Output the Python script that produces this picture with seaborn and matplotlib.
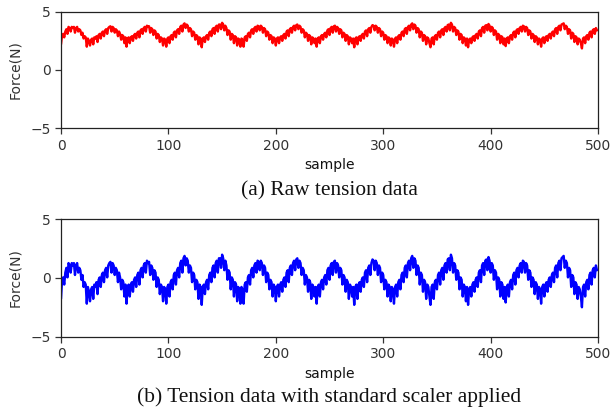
import numpy as np
import pandas as pd
import matplotlib
matplotlib.use("Agg")
import matplotlib.pyplot as plt
import seaborn as sns

# Raw tension readings (N), one value per sample, grouped by wave cycle
seg_a = [2.2, 3.0, 3.1, 2.8, 3.3, 3.5, 3.1, 3.7, 3.6, 3.3, 3.7, 3.6, 3.7, 3.2, 3.6, 3.7, 3.3, 3.5, 3.4, 3.0,
         3.2, 2.7, 2.9, 2.8, 2.0]
seg_b = [2.7, 2.5, 2.1, 2.6, 2.7, 2.2, 2.8, 2.7, 2.9, 2.4, 3.0, 3.1, 2.7, 3.2, 3.3, 2.9, 3.4, 3.5, 3.1, 3.6,
         3.7, 3.75, 3.3, 3.7, 3.6, 3.2, 3.5, 3.4, 2.9, 3.3, 3.1, 2.6, 3.0, 2.9, 2.3, 2.8, 2.0]
seg_c = [2.7, 2.8, 2.3, 2.8, 2.9, 2.5, 3.0, 3.1, 2.7, 3.2, 3.3, 2.8, 3.4, 3.5, 3.1, 3.6, 3.7, 3.3, 3.8, 3.7,
         3.75, 3.2, 3.6, 3.5, 3.0, 3.4, 3.3, 2.7, 3.1, 3.0, 2.4, 2.8, 2.7, 2.1, 2.7, 2.6, 2.0]
seg_d = [2.7, 2.8, 2.3, 2.9, 3.0, 2.6, 3.2, 3.3, 2.8, 3.4, 3.5, 3.1, 3.7, 3.8, 3.3, 3.9, 4.0, 3.6, 3.9, 3.8,
         3.3, 3.6, 3.5, 2.9, 3.3, 3.2, 2.6, 3.0, 2.9, 2.2, 2.8, 2.7, 1.95]
seg_e = [2.7, 2.8, 2.4, 2.9, 3.0, 2.6, 3.2, 3.3, 2.9, 3.5, 3.6, 3.1, 3.7, 3.8, 3.3, 3.9, 3.9, 3.5, 4.05, 3.9,
         3.4, 3.8, 3.6, 3.0, 3.4, 3.3, 2.6, 3.1, 3.0, 2.3, 2.9, 2.8, 2.1, 2.7, 2.6, 2.0]
seg_f = [2.7, 2.6, 2.0, 2.8, 2.9, 2.5, 3.1, 3.2, 2.8, 3.4, 3.5, 3.1, 3.6, 3.7, 3.3, 3.8, 3.75, 3.4, 3.8, 3.7,
         3.2, 3.6, 3.5, 2.9, 3.3, 3.2, 2.6, 3.0, 2.9, 2.3, 2.8, 2.7, 2.1]
seg_g = [2.7, 2.8, 2.3, 2.8, 2.9, 2.5, 3.0, 3.1, 2.7, 3.3, 3.4, 2.9, 3.5, 3.6, 3.2, 3.7, 3.8, 3.4, 3.85, 3.9,
         3.5, 3.8, 3.7, 3.2, 3.5, 3.4, 2.8, 3.2, 3.1, 2.5, 3.0, 2.9, 2.2, 2.8, 2.7, 2.3, 2.7, 2.0]
seg_h = [2.7, 2.8, 2.3, 2.9, 3.0, 2.6, 3.1, 3.2, 2.8, 3.4, 3.5, 3.0, 3.6, 3.7, 3.2, 3.75, 3.8, 3.3, 3.7, 3.6,
         3.1, 3.5, 3.4, 2.8, 3.2, 3.1, 2.5, 3.0, 2.9, 2.2, 2.8, 2.7, 2.3, 2.7, 1.95]
seg_i = [2.7, 2.8, 2.2, 2.8, 2.9, 2.5, 3.0, 3.1, 2.7, 3.3, 3.4, 2.9, 3.5, 3.6, 3.2, 3.7, 3.85, 3.8, 3.4, 3.8,
         3.7, 3.2, 3.6, 3.5, 2.9, 3.3, 3.2, 2.6, 3.0, 2.9, 2.3, 2.8, 2.7, 2.1, 2.7, 2.6, 2.0]
seg_j = [2.7, 2.8, 2.3, 2.9, 3.0, 2.6, 3.2, 3.3, 2.9, 3.5, 3.6, 3.1, 3.7, 3.8, 3.4, 3.9, 4.0, 3.5, 3.9, 3.8,
         3.2, 3.6, 3.5, 2.8, 3.3, 3.2, 2.5, 3.0, 2.9, 2.2, 2.8, 2.7, 2.3, 1.95]
seg_k = [2.7, 2.8, 2.2, 2.9, 3.0, 2.6, 3.2, 3.3, 2.8, 3.4, 3.5, 3.0, 3.6, 3.7, 3.3, 3.85, 3.9, 3.4, 4.05, 3.9,
         3.3, 3.7, 3.6, 3.0, 3.4, 3.3, 2.6, 3.1, 3.0, 2.3, 2.8, 2.7, 2.1, 2.7, 1.95]
seg_l = [2.6, 2.7, 2.3, 2.8, 2.9, 2.5, 3.0, 3.1, 2.7, 3.3, 3.4, 2.9, 3.6, 3.7, 3.2, 3.8, 3.85, 3.4, 3.95, 3.8,
         3.3, 3.7, 3.6, 3.0, 3.4, 3.3, 2.6, 3.1, 3.0, 2.3, 2.9, 2.8, 2.2, 2.7, 2.05]
seg_m = [2.7, 2.8, 2.3, 2.9, 3.0, 2.6, 3.2, 3.3, 2.8, 3.4, 3.5, 3.1, 3.6, 3.7, 3.3, 3.8, 3.75, 3.3, 3.7, 3.6,
         3.0, 3.4, 3.3, 2.7, 3.1, 3.0, 2.4, 2.9, 2.8, 2.2, 2.7, 2.6, 2.0]
seg_n = [2.7, 2.8, 2.3, 2.8, 2.9, 2.5, 3.0, 3.1, 2.7, 3.2, 3.3, 2.9, 3.5, 3.6, 3.1, 3.7, 3.8, 3.4, 3.9, 3.95,
         4.0, 3.5, 3.8, 3.7, 3.1, 3.5, 3.4, 2.7, 3.2, 3.1, 2.4, 2.9, 2.8, 2.2, 2.7, 2.6, 2.3, 1.85]
seg_o = [2.7, 2.8, 2.3, 2.9, 3.0, 2.6, 3.2, 3.3, 2.8, 3.4, 3.5, 3.1, 3.6, 3.4]

raw_force = np.array(seg_a + seg_b + seg_c + seg_d + seg_e + seg_f + seg_g + seg_h
                     + seg_i + seg_j + seg_k + seg_l + seg_m + seg_n + seg_o)
samples = np.arange(len(raw_force))

# Standard scaler: zero mean, unit variance
scaled_force = (raw_force - raw_force.mean()) / raw_force.std()

x_ticks = [0, 100, 200, 300, 400, 500]
y_ticks = [-5, 0, 5]
captions = ["(a) Raw tension data", "(b) Tension data with standard scaler applied"]

sns.set_style("ticks")
plt.rcParams["font.family"] = ["DejaVu Sans"]

fig = plt.figure(figsize=(6.12, 4.12), dpi=100)
ax_top = fig.add_axes([0.0997, 0.6886, 0.8775, 0.2830])
ax_bot = fig.add_axes([0.0997, 0.1828, 0.8775, 0.2849])

df = pd.DataFrame({"sample": samples, "raw": raw_force, "scaled": scaled_force})
sns.lineplot(data=df, x="sample", y="raw", ax=ax_top, color="#ff0000", linewidth=1.7)
sns.lineplot(data=df, x="sample", y="scaled", ax=ax_bot, color="#0000ff", linewidth=1.7)

for ax in (ax_top, ax_bot):
    ax.set_xlim(0, 500)
    ax.set_ylim(-5, 5)
    ax.set_xticks(x_ticks)
    ax.set_yticks(y_ticks)
    ax.set_xlabel("sample", fontsize=10, color="#111111")
    ax.set_ylabel("Force(N)", fontsize=10, color="#333333", labelpad=6)
    ax.tick_params(labelsize=10, colors="#333333", length=4, width=0.9)
    for side in ("left", "right", "top", "bottom"):
        ax.spines[side].set_visible(True)
        ax.spines[side].set_color("#222222")
        ax.spines[side].set_linewidth(0.9)

fig.text(0.5385, 0.537, captions[0], ha="center", va="center",
         fontsize=15.4, family="Liberation Serif", color="#111111")
fig.text(0.5385, 0.037, captions[1], ha="center", va="center",
         fontsize=15.4, family="Liberation Serif", color="#111111")

fig.savefig("out.png", dpi=100, facecolor="white")
